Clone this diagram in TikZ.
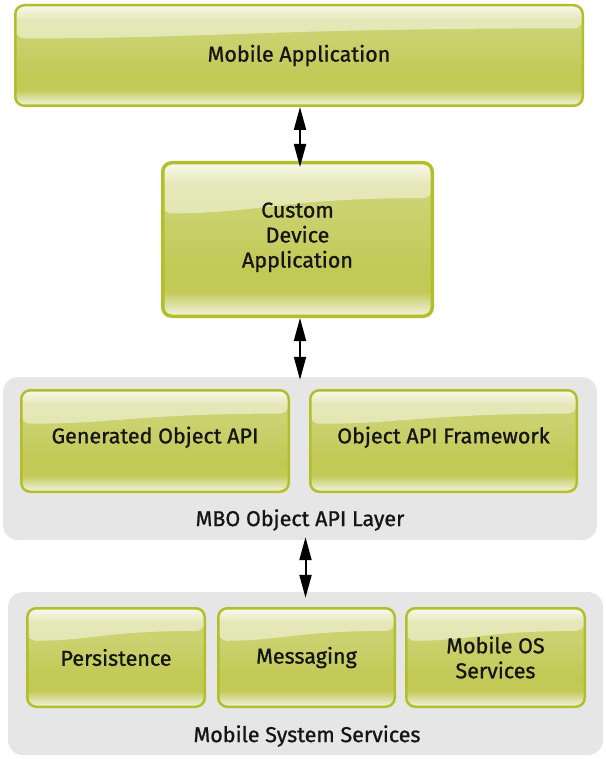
\documentclass[tikz,border=0pt]{standalone}
\usepackage{fontspec}
\setmainfont{Fira Sans}[RawFeature={embolden=1.0}]
\usetikzlibrary{arrows.meta,calc}
\definecolor{gbA}{HTML}{F3F5E0}
\definecolor{gbB}{HTML}{DADFA0}
\definecolor{gbC}{HTML}{C3CA57}
\definecolor{gbD}{HTML}{C2C955}
\definecolor{gbE}{HTML}{C9D06A}
\definecolor{gbF}{HTML}{CDD478}
\definecolor{gbG}{HTML}{F2F4DE}
\definecolor{boxborder}{HTML}{B3BF2A}
\definecolor{contgrey}{HTML}{E6E6E6}
\definecolor{txt}{HTML}{151515}
\pgfdeclareverticalshading{gloss}{100bp}{color(0bp)=(gbA); color(25bp)=(gbA); color(29bp)=(gbB); color(33bp)=(gbC); color(40bp)=(gbD); color(55bp)=(gbE); color(68bp)=(gbF); color(75bp)=(gbG); color(100bp)=(gbG)}
\tikzset{
  glossbox/.style={rectangle, rounded corners=9pt, draw=boxborder, line width=2.5pt,
    shading=gloss, align=center, text=txt, font=\fontsize{21.5}{25}\selectfont,
    path picture={
      \coordinate (ppnw) at (path picture bounding box.north west);
      \coordinate (ppse) at (path picture bounding box.south east);
      \fill[white,opacity=0.48] let \p1=(ppnw), \p2=(ppse) in
        (\x1,\y1) -- (\x1,{\y1+0.33*(\y2-\y1)})
        .. controls ({\x1+0.35*(\x2-\x1)},{\y1+0.33*(\y2-\y1)}) and ({\x1+0.45*(\x2-\x1)},{\y1+0.23*(\y2-\y1)})
        .. (\x2,{\y1+0.23*(\y2-\y1)}) -- (\x2,\y1) -- cycle;
    }},
  container/.style={rectangle, rounded corners=15pt, fill=contgrey, draw=none,
    minimum width=594pt, minimum height=163pt, inner sep=0pt},
  layerlabel/.style={text=txt, font=\fontsize{21.5}{25}\selectfont, inner sep=0pt},
  biarrow/.style={line width=2pt, draw=black,
    {Triangle[length=23pt,width=12pt]}-{Triangle[length=23pt,width=12pt]}}
}
\begin{document}
\begin{tikzpicture}[x=1pt,y=-1pt]
\useasboundingbox (0,0) rectangle (605,759);
% containers
\node[container] (c1) at (300,458.5) {};
\node[container, minimum width=595pt] (c2) at (305.5,673.5) {};
% boxes
\node[glossbox, minimum width=567.5pt, minimum height=100.5pt] (app) at (299,55.5) {Mobile Application};
\node[glossbox, line width=3.5pt, minimum width=269.5pt, minimum height=153.5pt] (cda) at (297.5,239.5) {Custom\\Device\\Application\\[-16pt]};
\node[glossbox, minimum width=267.5pt, minimum height=101.5pt] (gen) at (155,441) {Generated Object API\\[-13pt]};
\node[glossbox, minimum width=266.5pt, minimum height=101.5pt] (fw) at (443.5,441) {Object API Framework\\[-13pt]};
\node[glossbox, minimum width=177.5pt, minimum height=98.5pt] (pers) at (116,657.5) {Persistence};
\node[glossbox, minimum width=176.5pt, minimum height=98.5pt] (msg) at (306.5,657.5) {Messaging};
\node[glossbox, minimum width=178.5pt, minimum height=98.5pt] (mos) at (495.5,657.5) {Mobile OS\\Services};
% layer labels
\node[layerlabel] (l1) at (300,520) {MBO Object API Layer};
\node[layerlabel] (l2) at (307,736) {Mobile System Services};
% arrows
\draw[biarrow, shorten >=-6pt] ([xshift=1pt]app.south) -- ([xshift=1pt]app.south |- cda.north);
\draw[biarrow, shorten >=-3pt] ([xshift=2.5pt]cda.south) -- ([xshift=2.5pt]cda.south |- c1.north);
\draw[biarrow, shorten <=-3pt, shorten >=-6pt] ([xshift=5.5pt]c1.south) -- (c2.north);
\end{tikzpicture}
\end{document}
